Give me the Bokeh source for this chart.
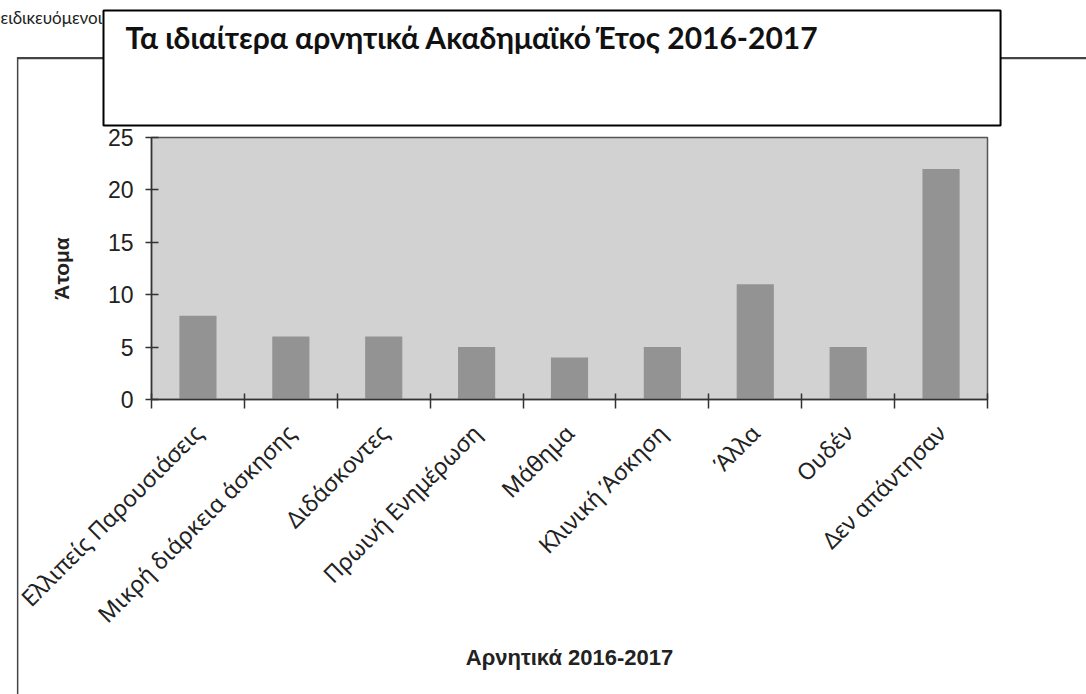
import math
import numpy as np
from bokeh.plotting import figure
from bokeh.models import FixedTicker, Label, Range1d
from bokeh.embed import file_html
from bokeh.resources import INLINE

categories = ["Ελλιπείς Παρουσιάσεις", "Μικρή διάρκεια άσκησης", "Διδάσκοντες",
              "Πρωινή Ενημέρωση", "Μάθημα", "Κλινική Άσκηση", "Άλλα", "Ουδέν",
              "Δεν απάντησαν"]
values = [8, 6, 6, 5, 4, 5, 11, 5, 22]
y_ticks = [0, 5, 10, 15, 20, 25]
title_text = "Τα ιδιαίτερα αρνητικά  Ακαδημαϊκό Έτος 2016-2017"
x_label = "Αρνητικά 2016-2017"
y_label = "Άτομα"
page_text = "ειδικευόμενοι της κλινικής μας"

n = len(categories)
xs = list(range(n))

W, H = 1086, 694
FL, FR, FT, FB = 151, 987, 137, 399   # frame edges in canvas pixels
X0, X1, Y0, Y1 = -0.5, n - 0.5, 0, max(y_ticks)


def dx(px):
    return X0 + (px - FL) * (X1 - X0) / (FR - FL)


def dy(py):
    return Y0 + (FB - py) * (Y1 - Y0) / (FB - FT)


p = figure(width=W, height=H,
           x_range=Range1d(X0, X1), y_range=Range1d(Y0, Y1),
           output_backend="svg", toolbar_location=None,
           min_border_left=FL, min_border_right=W - FR,
           min_border_top=FT, min_border_bottom=H - FB)

p.vbar(x=xs, top=values, width=0.4, fill_color="#939393", line_color=None)

p.background_fill_color = "#d2d2d2"
p.border_fill_color = "white"
p.outline_line_color = "#555555"
p.outline_line_width = 1.5
p.xgrid.visible = False
p.ygrid.visible = False

xa = p.xaxis[0]
xa.ticker = FixedTicker(ticks=xs, minor_ticks=[i - 0.5 for i in range(n + 1)])
xa.major_label_overrides = {i: c for i, c in zip(xs, categories)}
xa.major_label_orientation = math.pi / 4
xa.major_tick_in = 0
xa.major_tick_out = 0
xa.minor_tick_in = 6
xa.minor_tick_out = 9
xa.minor_tick_line_color = "#333333"
xa.minor_tick_line_width = 1.5
xa.axis_line_color = "#333333"
xa.axis_line_width = 1.5
xa.major_label_text_font = "Noto Sans"
xa.major_label_text_font_size = "23px"
xa.major_label_text_color = "#222222"
xa.major_label_standoff = 20
xa.axis_label = x_label
xa.axis_label_text_font = "Liberation Sans"
xa.axis_label_text_font_style = "bold"
xa.axis_label_text_font_size = "22px"
xa.axis_label_text_color = "#222222"
xa.axis_label_standoff = 2

ya = p.yaxis[0]
ya.ticker = FixedTicker(ticks=y_ticks)
ya.major_tick_in = 7
ya.major_tick_out = 6
ya.major_tick_line_color = "#333333"
ya.major_tick_line_width = 1.5
ya.minor_tick_line_color = None
ya.axis_line_color = "#333333"
ya.axis_line_width = 1.5
ya.major_label_text_font = "Liberation Sans"
ya.major_label_text_font_size = "23px"
ya.major_label_text_color = "#222222"
ya.major_label_standoff = 12
ya.axis_label = y_label
ya.axis_label_text_font = "Liberation Sans"
ya.axis_label_text_font_style = "bold"
ya.axis_label_text_font_size = "21px"
ya.axis_label_text_color = "#222222"
ya.axis_label_standoff = 32

# ---- page decorations (kept in side panels so they are not clipped to the frame)
top_line = Label(x=dx(17), y=dy(57), text=" ", text_font_size="1px",
                 text_align="left", text_baseline="top",
                 padding=dict(left=0, right=1200, top=0, bottom=0),
                 border_line_color="#444444", border_line_width=1.2,
                 background_fill_color=None, level="annotation")
p.add_layout(top_line, "above")

left_line = Label(x=dx(17), y=dy(57), text=" ", text_font_size="1px",
                  text_align="left", text_baseline="top",
                  padding=dict(left=0, right=0, top=0, bottom=900),
                  border_line_color="#444444", border_line_width=1.2,
                  background_fill_color=None, level="annotation")
p.add_layout(left_line, "left")

# text of the page, partly hidden behind the title box
p.add_layout(Label(x=dx(0), y=dy(17), text=page_text, text_font="Lato",
                   text_font_size="17px", text_color="#222222",
                   text_baseline="alphabetic", level="guide"), "below")

# title inside its white, black-bordered box (box anchored at its top-left corner)
p.add_layout(Label(x=dx(103), y=dy(10), text=title_text, text_font="Lato",
                   text_font_style="bold", text_font_size="30px",
                   text_color="#111111", text_align="left",
                   text_baseline="top",
                   padding=dict(left=22, right=172, top=8, bottom=71),
                   background_fill_color="white",
                   border_line_color="black", border_line_width=2,
                   level="overlay"), "above")

open("out.html", "w").write(file_html(p, INLINE))
